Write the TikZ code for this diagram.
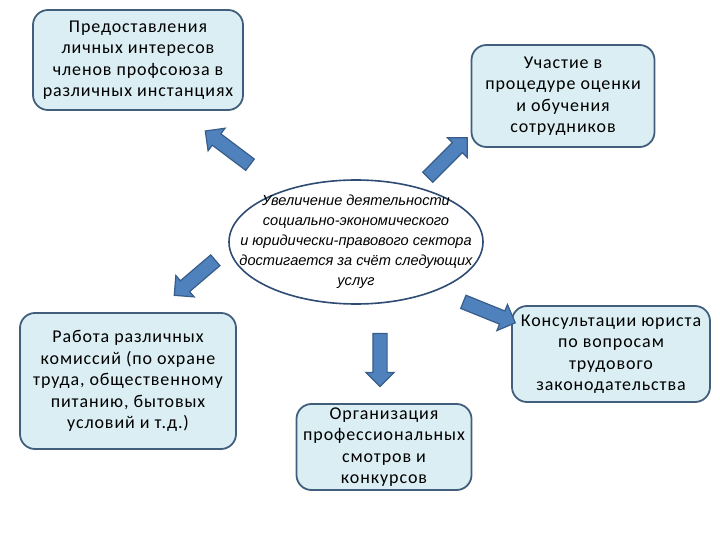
\documentclass[tikz,border=0pt]{standalone}
\usepackage{fontspec}
\setmainfont{Carlito}[LetterSpace=5]
\newfontfamily\goalfont{Liberation Sans}
\usepackage{tikz}
\usetikzlibrary{shapes.geometric, shapes.arrows, positioning}
\definecolor{boxfill}{RGB}{219,238,244}
\definecolor{boxline}{RGB}{65,95,125}
\definecolor{arrfill}{RGB}{79,129,189}
\definecolor{arrline}{RGB}{56,93,138}
\definecolor{ellline}{RGB}{45,75,115}
\tikzset{
  infobox/.style  = {rectangle, draw=boxline, fill=boxfill, line width=1.8pt,
                     rounded corners=15pt, align=center, inner sep=1pt,
                     font=\fontsize{18}{21.5}\selectfont},
  goalell/.style  = {ellipse, draw=ellline, line width=1.6pt, inner sep=0pt},
  goaltext/.style = {align=center, inner sep=0pt,
                     font=\goalfont\itshape\fontsize{14.6}{20}\selectfont},
  blockarrow/.style = {single arrow, draw=arrline, fill=arrfill, line width=1.2pt,
                       inner xsep=0pt, inner ysep=6.5pt, single arrow head extend=7pt},
}

\begin{document}
\begin{tikzpicture}[x=1pt, y=-1pt]
    \useasboundingbox (0,0) rectangle (720,540);

    %% Centre: goal
    \node[goalell, minimum width=254pt, minimum height=124pt] (goal) at (356,242) {};
    \node[goaltext] (goaltxt) at (goal.center) {Увеличение деятельности\\социально-экономического\\и юридически-правового сектора\\достигается за счёт следующих\\услуг};

    %% Services
    \node[infobox, minimum width=210pt, minimum height=100pt] (pers) at (138,60)
        {Предоставления\\личных интересов\\членов профсоюза в\\различных инстанциях};
    \node[infobox, minimum width=183pt, minimum height=102pt] (eval) at (563,96)
        {Участие в\\процедуре оценки\\и обучения\\сотрудников};
    \node[infobox, minimum width=216pt, minimum height=136pt] (comm) at (128,381)
        {Работа различных\\комиссий (по охране\\труда, общественному\\питанию, бытовых\\условий и т.д.)};
    \node[infobox, minimum width=198pt, minimum height=96pt] (lawy) at (611,354)
        {Консультации юриста\\по вопросам\\трудового\\законодательства};
    \node[infobox, minimum width=175pt, minimum height=86pt] (cont) at (384,447)
        {Организация\\профессиональных\\смотров и\\конкурсов};

    %% Block arrows
    \node[blockarrow, minimum height=56pt, rotate=143]   (arrP) at (230.5,150) {};
    \node[blockarrow, minimum height=56pt, rotate=45]    (arrE) at (445,160) {};
    \node[blockarrow, minimum height=54pt, rotate=220.5] (arrC) at (197.5,275.5) {};
    \node[blockarrow, minimum height=53pt, rotate=-90]   (arrO) at (380,356.5) {};
    \node[blockarrow, minimum height=56pt, rotate=-22]   (arrL) at (486,311) {};

\end{tikzpicture}
\end{document}
